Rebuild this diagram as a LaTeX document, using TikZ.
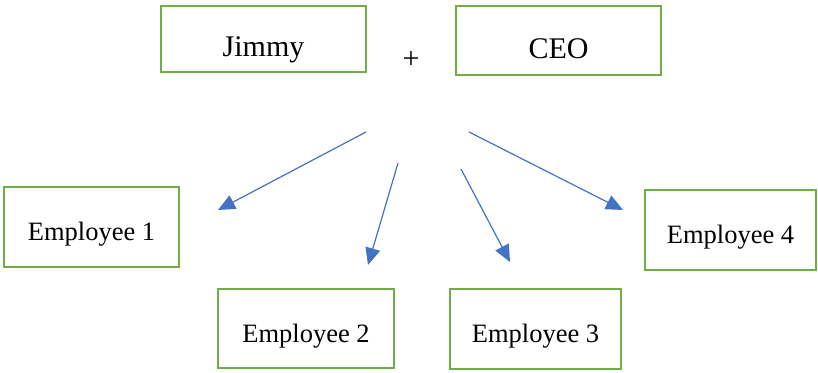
\documentclass[tikz,border=0pt]{standalone}
\usepackage{fontspec}
\setmainfont{Liberation Serif}
\usetikzlibrary{arrows.meta}
\definecolor{boxgreen}{HTML}{70AD47}
\definecolor{arrblue}{HTML}{4472C4}
\tikzset{
  topbox/.style={draw=boxgreen, line width=2.4pt, inner sep=0pt, minimum width=205pt,
    font=\fontsize{30}{36}\selectfont, text height=35pt, text depth=0pt},
  empbox/.style={draw=boxgreen, line width=2.4pt, inner sep=0pt, minimum height=79pt,
    font=\fontsize{26.5}{32}\selectfont, text height=27pt, text depth=0pt},
  conn/.style={draw=arrblue, line width=1.2pt, -{Triangle[length=17pt,width=15pt]}}
}
\begin{document}
\begin{tikzpicture}[x=1pt,y=-1pt]
\useasboundingbox (0,0) rectangle (818,372);
\node[topbox, minimum height=66pt] (jimmy) at (263.5,39) {Jimmy};
\node[topbox, minimum height=69pt] (ceo) at (558.5,40.5) {CEO};
\node[font=\fontsize{30}{36}\selectfont] (plus) at (411,60) {+};
\node[empbox, minimum width=175pt, minimum height=80pt] (e1) at (91.5,227) {Employee 1};
\node[empbox, minimum width=176pt] (e2) at (306,328.5) {Employee 2};
\node[empbox, minimum width=171pt, minimum height=80pt] (e3) at (535.5,329) {Employee 3};
\node[empbox, minimum width=171pt, minimum height=80pt] (e4) at (730.5,230) {Employee 4};
\coordinate (s1) at (366,132);
\coordinate (t1) at (218,210);
\coordinate (s2) at (398,163);
\coordinate (t2) at (368,265);
\coordinate (s3) at (461,169);
\coordinate (t3) at (510,262);
\coordinate (s4) at (469,132);
\coordinate (t4) at (623,210);
\draw[conn] (s1) -- (t1);
\draw[conn] (s2) -- (t2);
\draw[conn] (s3) -- (t3);
\draw[conn] (s4) -- (t4);
\end{tikzpicture}
\end{document}
